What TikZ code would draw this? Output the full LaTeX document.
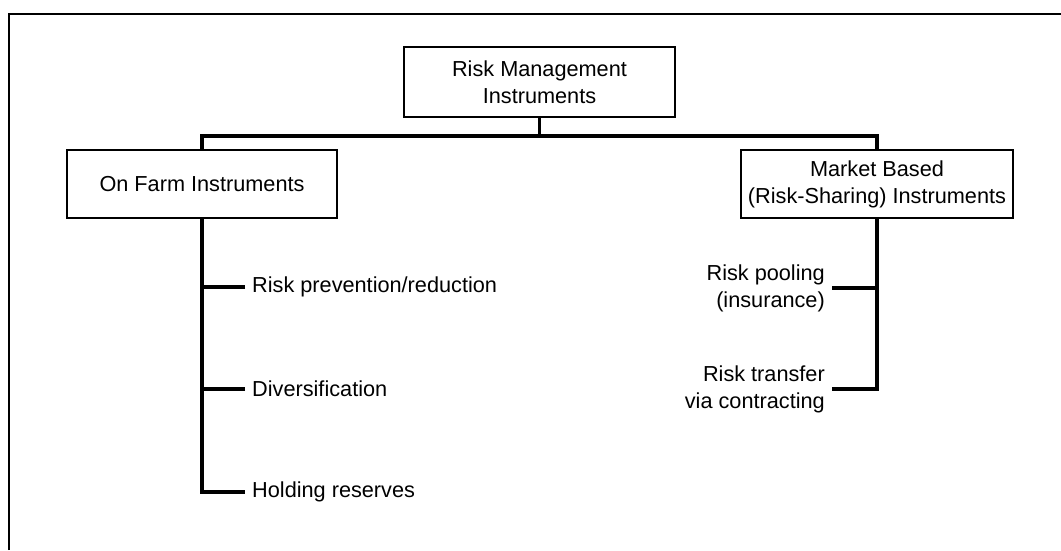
\documentclass[tikz,border=0pt]{standalone}
\usepackage{fontspec}
\setmainfont{Liberation Sans}
\begin{document}
\begin{tikzpicture}[x=1pt,y=-1pt,
  every node/.style={font=\fontsize{21.7}{27}\selectfont},
  box/.style={draw, line width=1.5pt, rectangle, inner sep=0pt, align=center},
  conn/.style={line width=3.4pt},
  frameline/.style={line width=1.5pt},
  leaf/.style={inner xsep=7pt, inner ysep=0pt},
]
\useasboundingbox (0,0) rectangle (1061,550);
\draw[frameline] (9,550) -- (9,14) -- (1061,14);

\node[box, minimum width=271pt, minimum height=70pt] (root) at (539.5,82) {Risk Management\\Instruments};
\node[box, minimum width=270pt, minimum height=68pt] (farm) at (202,184) {On Farm Instruments};
\node[box, minimum width=272pt, minimum height=68pt] (market) at (877,184) {Market Based\\(Risk-Sharing) Instruments};

\coordinate (bar) at (539.5,136);
\draw[conn] (root.south) -- (bar);
\draw[conn] (farm.north) |- (bar) -| (market.north);

\node[leaf, anchor=west] (l1) at (245,287) {Risk prevention/reduction};
\node[leaf, anchor=west] (l2) at (245,389) {Diversification};
\node[leaf, anchor=west] (l3) at (245,492) {Holding reserves};
\draw[conn] (farm.south) |- (l3.west);
\draw[conn] (l1.west) -- (l1.west -| farm.south);
\draw[conn] (l2.west) -- (l2.west -| farm.south);

\node[leaf, anchor=east, align=right] (r1) at (832,288) {Risk pooling\\(insurance)};
\node[leaf, anchor=east, align=right] (r2) at (832,389) {Risk transfer\\via contracting};
\draw[conn] (market.south) |- (r2.east);
\draw[conn] (r1.east) -- (r1.east -| market.south);
\end{tikzpicture}
\end{document}
